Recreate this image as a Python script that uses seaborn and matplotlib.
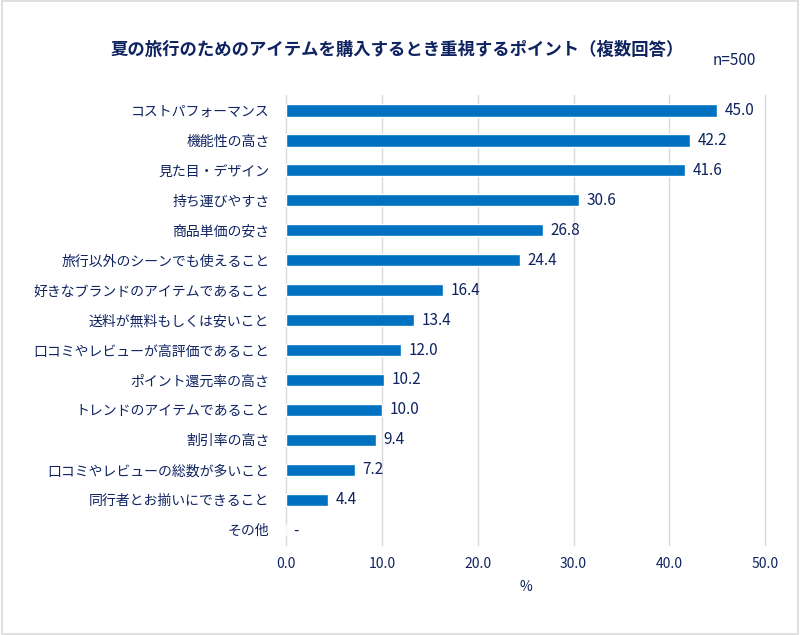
import matplotlib
matplotlib.use("Agg")
import matplotlib.pyplot as plt
import seaborn as sns
import pandas as pd

items = [
    "コストパフォーマンス",
    "機能性の高さ",
    "見た目・デザイン",
    "持ち運びやすさ",
    "商品単価の安さ",
    "旅行以外のシーンでも使えること",
    "好きなブランドのアイテムであること",
    "送料が無料もしくは安いこと",
    "口コミやレビューが高評価であること",
    "ポイント還元率の高さ",
    "トレンドのアイテムであること",
    "割引率の高さ",
    "口コミやレビューの総数が多いこと",
    "同行者とお揃いにできること",
    "その他",
]
values = [45.0, 42.2, 41.6, 30.6, 26.8, 24.4, 16.4, 13.4, 12.0, 10.2, 10.0, 9.4, 7.2, 4.4, 0.0]
value_labels = ["45.0", "42.2", "41.6", "30.6", "26.8", "24.4", "16.4", "13.4",
                "12.0", "10.2", "10.0", "9.4", "7.2", "4.4", "-"]
x_ticks = [0, 10, 20, 30, 40, 50]

df = pd.DataFrame({"item": items, "value": values})

sns.set_theme(style="white")
plt.rcParams['font.family'] = ['Noto Sans CJK JP', 'DejaVu Sans']

navy = "#0F2360"
bar_color = "#0070C0"

fig = plt.figure(figsize=(8, 6.35), dpi=100)
ax = fig.add_axes([0.3575, 0.142, 0.599, 0.708])

sns.barplot(data=df, y="item", x="value", orient="h", color=bar_color,
            width=0.42, saturation=1, ax=ax)

for i, (v, lab) in enumerate(zip(values, value_labels)):
    ax.text(v + 0.8, i, lab, va="center", ha="left", fontsize=11, color=navy)

ax.set_xlim(0, 50)
ax.set_ylim(len(items) - 0.5, -0.5)
ax.set_xticks(x_ticks)
ax.set_xticklabels([f"{t:.1f}" for t in x_ticks], fontsize=10, color=navy)
ax.set_yticks(range(len(items)))
ax.set_yticklabels(items, fontsize=10, color=navy)
ax.tick_params(axis="both", length=0)
ax.tick_params(axis="y", pad=12)
ax.tick_params(axis="x", pad=9)
ax.set_xlabel("%", fontsize=10, color=navy, labelpad=6)
ax.set_ylabel("")
ax.xaxis.grid(True, color="#D9D9D9", linewidth=1)
for gl in ax.get_xgridlines():
    gl.set_clip_on(False)
ax.set_axisbelow(True)
for s in ax.spines.values():
    s.set_visible(False)

fig.text(0.497, 0.922, "夏の旅行のためのアイテムを購入するとき重視するポイント（複数回答）",
         ha="center", va="center", fontsize=12.5, fontweight="bold", color=navy)
fig.text(0.918, 0.905, "n=500", ha="center", va="center", fontsize=11, color=navy)

border = plt.Rectangle((0.002, 0.002), 0.996, 0.996, transform=fig.transFigure,
                       fill=False, edgecolor="#D9D9D9", linewidth=1.2)
fig.patches.append(border)

fig.savefig("out.png", dpi=100)
